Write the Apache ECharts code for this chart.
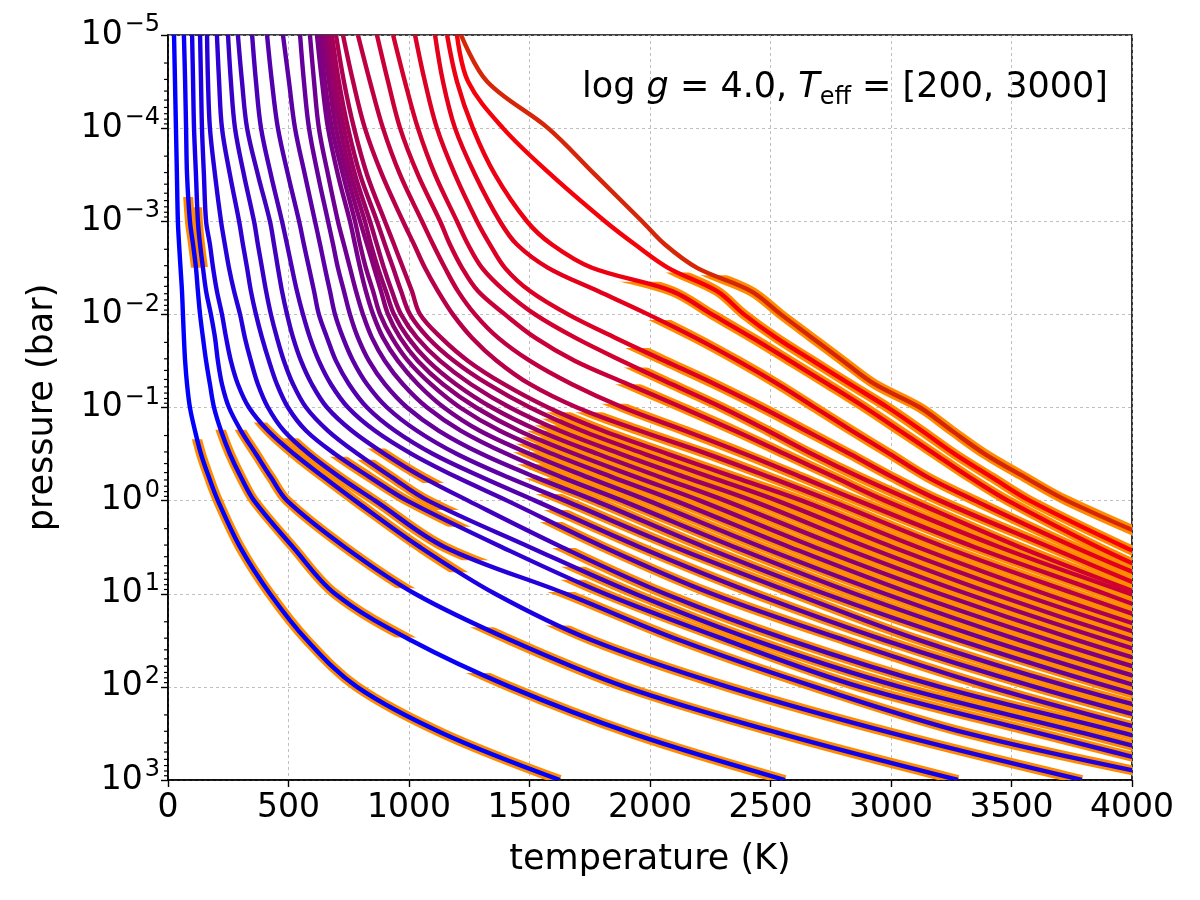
<!DOCTYPE html>
<html>
<head>
<meta charset="utf-8">
<script src="https://cdn.jsdelivr.net/npm/echarts@6/dist/echarts.min.js"></script>
<style>
  html, body { margin: 0; padding: 0; background: #fff; }
  #chart { width: 1200px; height: 900px; }
</style>
</head>
<body>
<div id="chart"></div>
<script>
// pressure levels (log10 bar) shared by all profiles
const logP = [-5, -4.5, -4, -3.5, -3, -2.75, -2.5, -2.25, -2, -1.75, -1.5, -1.25, -1, -0.75, -0.5, -0.25, 0, 0.5, 1, 1.5, 2, 2.5, 3];

// temperature (K) at each level, one array per Teff
const t200  = [25, 29, 33, 37, 41, 46, 52, 58, 62, 66, 71, 79, 91, 112, 137, 170, 207, 299, 423, 577, 784, 1141, 1626];
const t300  = [66, 71, 75, 79, 91, 104, 116, 124, 133, 145, 158, 174, 191, 220, 257, 303, 357, 519, 693, 1008, 1419, 1925, 2560];
const t400  = [100, 104, 108, 116, 124, 133, 145, 158, 178, 195, 207, 224, 253, 303, 365, 427, 494, 734, 1025, 1423, 1896, 2539, 3278];
const t500  = [133, 137, 141, 149, 158, 174, 187, 203, 224, 241, 261, 290, 336, 415, 523, 647, 776, 1046, 1357, 1759, 2323, 3008, 3792];
const t600  = [162, 166, 174, 195, 220, 236, 253, 274, 299, 319, 344, 373, 415, 481, 585, 714, 859, 1149, 1651, 2124, 2684, 3319, 4199];
const t700  = [203, 212, 224, 257, 295, 311, 328, 344, 365, 390, 419, 452, 498, 573, 693, 838, 992, 1386, 1813, 2319, 2871, 3618, 4385];
const t800  = [249, 261, 278, 315, 357, 373, 390, 407, 427, 452, 481, 519, 573, 664, 788, 929, 1079, 1502, 1938, 2435, 3037, 3805, 4551];
const t900  = [290, 307, 328, 373, 423, 440, 456, 473, 494, 519, 552, 597, 660, 763, 900, 1058, 1245, 1635, 2062, 2581, 3203, 3971, 4697];
const t1000 = [349, 365, 386, 427, 473, 494, 514, 535, 560, 589, 626, 676, 747, 859, 1012, 1199, 1407, 1809, 2257, 2809, 3410, 4116];
const t1100 = [411, 431, 456, 498, 544, 564, 585, 606, 626, 660, 697, 751, 826, 942, 1100, 1303, 1523, 1958, 2435, 2975, 3597, 4303];
const t1200 = [477, 502, 527, 568, 610, 631, 651, 672, 693, 726, 768, 826, 909, 1033, 1199, 1411, 1647, 2104, 2601, 3120, 3742, 4468];
const t1300 = [548, 564, 585, 622, 664, 685, 705, 730, 755, 788, 834, 900, 992, 1124, 1303, 1527, 1772, 2228, 2726, 3286, 3908, 4614];
const t1400 = [589, 606, 626, 664, 705, 730, 755, 780, 809, 846, 900, 975, 1075, 1216, 1407, 1635, 1884, 2352, 2850, 3410, 4033];
const t1500 = [618, 639, 664, 705, 755, 776, 797, 821, 851, 892, 954, 1037, 1145, 1294, 1502, 1743, 1992, 2465, 2975, 3535, 4157];
const t1600 = [631, 651, 680, 726, 776, 797, 821, 851, 880, 929, 996, 1091, 1212, 1377, 1597, 1846, 2104, 2581, 3087, 3659, 4282];
const t1700 = [643, 668, 697, 743, 797, 826, 855, 884, 913, 963, 1037, 1141, 1278, 1456, 1689, 1946, 2207, 2684, 3203, 3776, 4406];
const t1800 = [656, 680, 714, 759, 817, 842, 871, 904, 938, 996, 1079, 1195, 1344, 1539, 1784, 2045, 2311, 2796, 3315, 3896, 4531];
const t1900 = [668, 693, 730, 776, 838, 867, 896, 929, 967, 1033, 1129, 1257, 1419, 1626, 1880, 2149, 2423, 2904, 3423, 4004, 4655];
const t2000 = [680, 709, 747, 797, 867, 900, 934, 967, 1004, 1079, 1187, 1328, 1502, 1718, 1979, 2253, 2527, 3008, 3535, 4116];
const t2100 = [697, 730, 772, 826, 900, 938, 975, 1012, 1046, 1133, 1245, 1394, 1577, 1805, 2075, 2352, 2630, 3112, 3639, 4220];
const t2200 = [726, 768, 817, 888, 975, 1021, 1066, 1120, 1182, 1261, 1365, 1502, 1697, 1958, 2240, 2498, 2747, 3224, 3763, 4323];
const t2300 = [788, 838, 892, 963, 1054, 1100, 1149, 1203, 1274, 1369, 1502, 1676, 1888, 2145, 2394, 2630, 2863, 3348, 3888, 4406];
const t2400 = [867, 913, 963, 1037, 1129, 1170, 1220, 1286, 1398, 1523, 1689, 1909, 2133, 2352, 2560, 2767, 2975, 3452, 3991, 4531];
const t2500 = [934, 983, 1037, 1108, 1199, 1245, 1303, 1398, 1523, 1689, 1884, 2091, 2299, 2489, 2672, 2871, 3087, 3535, 4033];
const t2600 = [1025, 1066, 1116, 1191, 1282, 1336, 1398, 1502, 1660, 1855, 2062, 2270, 2464, 2647, 2830, 3008, 3203, 3659, 4116];
const t2700 = [1108, 1141, 1191, 1274, 1377, 1448, 1577, 1784, 1992, 2187, 2365, 2531, 2684, 2838, 2996, 3153, 3348, 3763, 4220];
const t2800 = [1158, 1199, 1265, 1357, 1489, 1593, 1759, 2091, 2257, 2423, 2581, 2738, 2892, 3037, 3182, 3327, 3485, 3859, 4282];
const t2900 = [1199, 1245, 1390, 1589, 1813, 1938, 2075, 2278, 2390, 2523, 2676, 2830, 2987, 3128, 3265, 3419, 3576, 3971, 4406];
const t3000 = [1216, 1324, 1577, 1772, 1967, 2062, 2195, 2419, 2543, 2672, 2801, 2933, 3120, 3253, 3390, 3556, 3730, 4166];

// convective zones, [top, bottom] in log10 bar
const cz200  = [[-0.66, 3]];
const cz300  = [[-3.26, -2.5], [-0.76, 1.47], [1.85, 3]];
const cz400  = [[-3.15, -2.51], [-0.76, 0.94], [1.36, 3]];
const cz500  = [[-0.84, 0.77], [1.34, 3]];
const cz600  = [[-0.67, 0.64], [0.98, 3]];
const cz700  = [[-0.47, 0.28], [0.85, 3]];
const cz800  = [[-0.44, 0.10], [0.71, 3]];
const cz900  = [[-0.56, -0.19], [0.51, 3]];
const cz1000 = [[0.23, 3]];
const cz1100 = [[0.10, 3]];
const cz1200 = [[-0.07, 3]];
const cz1300 = [[-0.24, 3]];
const cz1400 = [[-0.39, 3]];
const cz1500 = [[-0.52, 3]];
const cz1600 = [[-0.61, 3]];
const cz1700 = [[-0.68, 3]];
const cz1800 = [[-0.75, 3]];
const cz1900 = [[-0.81, 3]];
const cz2000 = [[-0.88, 3]];
const cz2100 = [[-0.95, 3]];
const cz2200 = [[-0.95, 3]];
const cz2300 = [[-1.04, 3]];
const cz2400 = [[-1.25, 3]];
const cz2500 = [[-1.43, 3]];
const cz2600 = [[-1.64, 3]];
const cz2700 = [[-1.94, 3]];
const cz2800 = [[-2.35, 3]];
const cz2900 = [[-2.45, 3]];
const cz3000 = [[-2.42, 3]];

const teff = [200, 300, 400, 500, 600, 700, 800, 900, 1000, 1100, 1200, 1300, 1400, 1500, 1600,
              1700, 1800, 1900, 2000, 2100, 2200, 2300, 2400, 2500, 2600, 2700, 2800, 2900, 3000];
const temps = [t200, t300, t400, t500, t600, t700, t800, t900, t1000, t1100, t1200, t1300, t1400, t1500, t1600,
               t1700, t1800, t1900, t2000, t2100, t2200, t2300, t2400, t2500, t2600, t2700, t2800, t2900, t3000];
const zones = [cz200, cz300, cz400, cz500, cz600, cz700, cz800, cz900, cz1000, cz1100, cz1200, cz1300, cz1400, cz1500, cz1600,
               cz1700, cz1800, cz1900, cz2000, cz2100, cz2200, cz2300, cz2400, cz2500, cz2600, cz2700, cz2800, cz2900, cz3000];

const FONT = 'DejaVu Sans';
const ORANGE = '#ff8c00';
const SMOOTH = 0.35;

// blue -> red by Teff; the hottest profile is drawn a darker red in the figure
function lineColor(i) {
  if (i === teff.length - 1) return 'rgb(214,38,8)';
  const f = i / (teff.length - 1);
  return 'rgb(' + Math.round(255 * f) + ',0,' + Math.round(255 * (1 - f)) + ')';
}

// [T, P] pairs for each profile
const profiles = temps.map(t => t.map((T, k) => [T, Math.pow(10, logP[k])]));

const chart = echarts.init(document.getElementById('chart'), null, { renderer: 'canvas' });

function gridClip(cs) {
  return { type: 'rect', shape: { x: cs.x, y: cs.y, width: cs.width, height: cs.height } };
}

// orange underlay for the convective parts
const convSeries = {
  type: 'custom',
  name: 'convective',
  coordinateSystem: 'cartesian2d',
  silent: true,
  z: 2,
  data: teff.map(() => [0, 1]),
  renderItem: function (params, api) {
    const i = params.dataIndex;
    const cs = params.coordSys;
    const pts = profiles[i].map(p => api.coord(p));
    const children = zones[i].map(z => {
      const ya = api.coord([0, Math.pow(10, z[0])])[1];
      const yb = api.coord([0, Math.pow(10, z[1])])[1];
      const top = Math.max(cs.y, Math.min(ya, yb));
      const bot = Math.min(cs.y + cs.height, Math.max(ya, yb));
      return {
        type: 'polyline',
        shape: { points: pts, smooth: SMOOTH },
        style: { stroke: ORANGE, lineWidth: 10, fill: null, lineJoin: 'round' },
        clipPath: { type: 'rect', shape: { x: cs.x, y: top, width: cs.width, height: Math.max(0, bot - top) } }
      };
    });
    return { type: 'group', children: children };
  }
};

// the profiles themselves
const profileSeries = {
  type: 'custom',
  name: 'profiles',
  coordinateSystem: 'cartesian2d',
  silent: true,
  z: 3,
  data: teff.map(() => [0, 1]),
  renderItem: function (params, api) {
    const i = params.dataIndex;
    const pts = profiles[i].map(p => api.coord(p));
    return {
      type: 'group',
      clipPath: gridClip(params.coordSys),
      children: [{
        type: 'polyline',
        shape: { points: pts, smooth: SMOOTH },
        style: { stroke: lineColor(i), lineWidth: 4.4, fill: null, lineJoin: 'round' }
      }]
    };
  }
};

// minor ticks on the log axis (2..9 within each decade)
const minorVals = [];
for (let e = -5; e < 3; e++) {
  for (let k = 2; k <= 9; k++) minorVals.push([0, k * Math.pow(10, e)]);
}
const minorTickSeries = {
  type: 'custom',
  silent: true,
  z: 10,
  data: minorVals,
  renderItem: function (params, api) {
    const p = api.coord([0, api.value(1)]);
    return {
      type: 'line',
      shape: { x1: p[0] - 4, y1: p[1], x2: p[0], y2: p[1] },
      style: { stroke: '#000', lineWidth: 1.2 }
    };
  }
};

const option = {
  animation: false,
  backgroundColor: '#fff',
  textStyle: { fontFamily: FONT },
  grid: { left: 168, right: 68, top: 35, bottom: 120, show: true, borderColor: '#000', borderWidth: 1.6, backgroundColor: 'transparent' },
  xAxis: {
    type: 'value',
    min: 0,
    max: 4000,
    interval: 500,
    name: 'temperature (K)',
    nameLocation: 'middle',
    nameGap: 62,
    nameTextStyle: { fontSize: 35, color: '#000', fontFamily: FONT },
    axisLine: { show: true, lineStyle: { color: '#000', width: 1.6 } },
    axisTick: { show: true, length: 7, lineStyle: { color: '#000', width: 1.4 } },
    axisLabel: { fontSize: 33, color: '#000', margin: 12, fontFamily: FONT, formatter: v => String(v) },
    splitLine: { show: true, lineStyle: { color: '#b0b0b0', width: 0.8, type: [3, 3] } }
  },
  yAxis: {
    type: 'log',
    logBase: 10,
    min: 1e-5,
    max: 1e3,
    splitNumber: 8,
    inverse: true,
    name: 'pressure (bar)',
    nameLocation: 'middle',
    nameGap: 108,
    nameRotate: 90,
    nameTextStyle: { fontSize: 35, color: '#000', fontFamily: FONT },
    axisLine: { show: true, lineStyle: { color: '#000', width: 1.6 } },
    axisTick: { show: true, length: 7, lineStyle: { color: '#000', width: 1.4 } },
    axisLabel: {
      color: '#000',
      margin: 8,
      fontFamily: FONT,
      formatter: function (v) {
        const e = Math.round(Math.log10(v));
        const s = e < 0 ? '\u2212' + (-e) : String(e);
        return '{b|10}{s|' + s + '}';
      },
      rich: {
        b: { fontSize: 33, fontFamily: FONT, color: '#000' },
        s: { fontSize: 24, fontFamily: FONT, color: '#000', verticalAlign: 'top', padding: [0, 0, 20, 2] }
      }
    },
    splitLine: { show: true, lineStyle: { color: '#b0b0b0', width: 0.8, type: [3, 3] } }
  },
  graphic: [{
    type: 'text',
    right: 92,
    top: 70,
    z: 100,
    style: {
      text: '{n|log }{i|g}{n| = 4.0, }{i|T}{sub|eff}{n| = [200, 3000]}',
      rich: {
        n: { fontSize: 35, fontFamily: FONT, fill: '#000' },
        i: { fontSize: 35, fontFamily: FONT, fontStyle: 'italic', fill: '#000' },
        sub: { fontSize: 24, fontFamily: FONT, fill: '#000', padding: [20, 0, 0, 0] }
      }
    }
  }],
  series: [convSeries, profileSeries, minorTickSeries]
};

chart.setOption(option);
</script>
</body>
</html>
